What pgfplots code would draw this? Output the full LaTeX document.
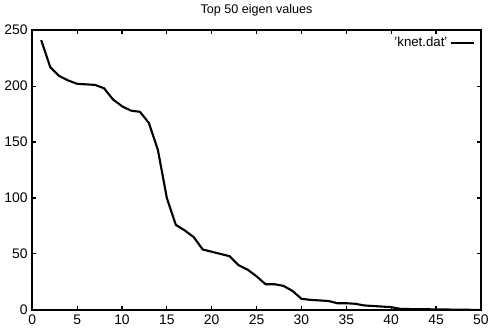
\documentclass[border=0pt]{standalone}
\usepackage{fontspec}
\setmainfont{Liberation Sans}
\usepackage{pgfplots}
\pgfplotsset{compat=1.18}
\begin{document}
\begin{tikzpicture}
\begin{axis}[
  scale only axis,
  width=339pt, height=211.5pt,
  xmin=0, xmax=50, ymin=0, ymax=250,
  xtick={0,5,...,50}, ytick={0,50,...,250},
  tick align=inside,
  major tick length=3pt,
  axis line style={line width=1.2pt},
  tick style={line width=0.8pt,black},
  /pgf/number format/assume math mode=true,
  ticklabel style={font=\fontsize{10.5}{12}\selectfont},
  title={Top 50 eigen values},
  title style={font=\fontsize{9.5}{11}\selectfont, yshift=1pt},
  legend style={draw=none, fill=none, at={(0.99,0.99)}, anchor=north east, font=\fontsize{10}{12}\selectfont, inner sep=1pt},
  legend cell align=right,
  legend plot pos=right,
]
\addplot[black, line width=1.6pt, no marks] coordinates {
(1,241) (2,217) (3,209) (4,205) (5,202) (6,201.5) (7,201) (8,198)
(9,188) (10,182) (11,178) (12,177) (13,167) (14,143) (15,100) (16,76)
(17,71) (18,65) (19,54) (20,52) (21,50) (22,48) (23,40) (24,36)
(25,30) (26,23) (27,23) (28,21.5) (29,17) (30,10) (31,9) (32,8.5)
(33,8) (34,6) (35,6) (36,5.5) (37,4) (38,3.5) (39,3) (40,2.5)
(41,1) (42,0.8) (43,0.7) (44,0.6) (45,0.5) (46,0.4) (47,0.3) (48,0.2) (49,0.1) (50,0)
};
\addlegendentry{'knet.dat'}
\end{axis}
\end{tikzpicture}
\end{document}
